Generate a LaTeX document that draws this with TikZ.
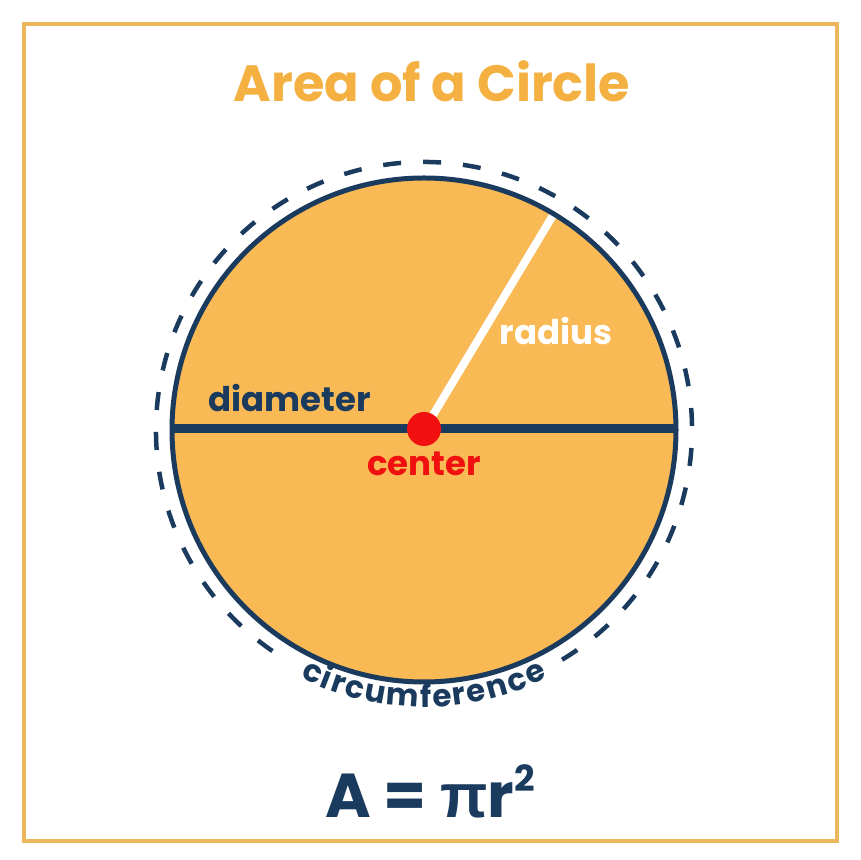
\documentclass[tikz,border=0pt]{standalone}
\usepackage{fontspec}
\setmainfont{Poppins}
\newfontfamily\pifont{Liberation Sans}
\usetikzlibrary{decorations.text}
\definecolor{gold}{HTML}{F4B142}
\definecolor{frame}{HTML}{EBB65C}
\definecolor{disc}{HTML}{F9B955}
\definecolor{navy}{HTML}{1B3B5E}
\definecolor{dotred}{HTML}{F01010}
\newcommand{\fs}[1]{\fontsize{#1}{#1}\selectfont\bfseries}
\begin{document}
\begin{tikzpicture}[x = 1pt, y = 1pt,
    lbl/.style = {inner sep = 0pt, anchor = base}]
    \useasboundingbox (0,0) rectangle (860,860);
    \draw [frame, line width = 3.5] (24,19) rectangle (837,836);
    \node [lbl, gold] (title) at (432,758) {\fs{51}Area of a Circle};
    % the disc
    \coordinate (c) at (424,430);
    \fill [disc] (c) circle [radius = 252];
    \draw [navy, line width = 9] (172,431) coordinate (dl) -- (676,431) coordinate (dr);
    \draw [white, line width = 8] (c) -- ++(59:250) coordinate (rim);
    \draw [navy, line width = 5] (c) circle [radius = 252];
    \draw [navy, line width = 4.5, dash pattern = on 18 off 22]
    (c) ++(-59:268) arc [start angle = -59, end angle = 239, radius = 268];
    \fill [dotred] (c) ++(0,1) circle [radius = 17];
    \node [lbl, navy] (diam) at (290,448) {\fs{34}diameter};
    \node [lbl, white] (rad) at (556,515) {\fs{34}radius};
    \node [lbl, dotred] (cent) at (424,384) {\fs{34}center};
    \path [decorate, decoration = {text effects along path, text = {circumference},
      text align = center, text effects/.cd, text along path,
      character widths = {font = \fs{31}, inner xsep = 0.9pt},
      characters = {text = navy, font = \fs{31}, inner sep = 0pt, anchor = base}}]
    (c) ++(240:277) arc [start angle = 240, end angle = 300, radius = 277];
    \node [lbl, navy] (area) at (430,42) {\fs{62}A = {\pifont\bfseries π}r\raisebox{0.42em}{\fs{36}2}};
  \end{tikzpicture}
\end{document}
